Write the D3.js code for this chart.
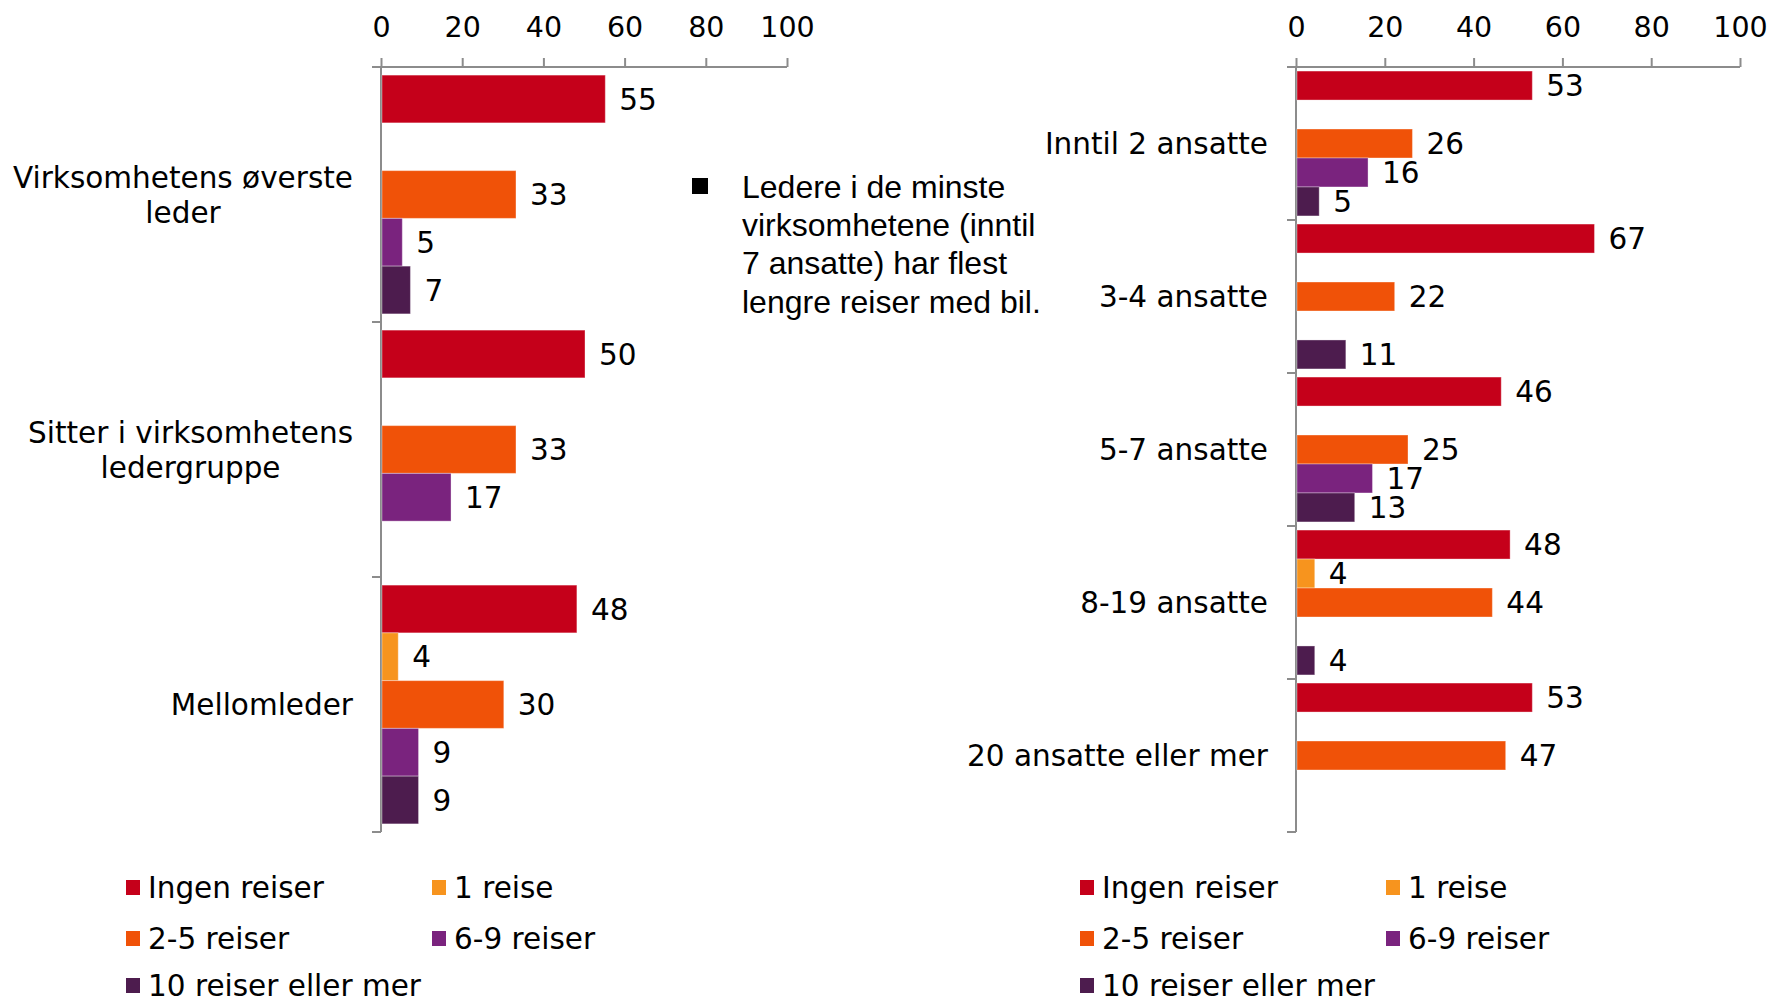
<!DOCTYPE html>
<html>
<head>
<meta charset="utf-8">
<script src="https://cdn.jsdelivr.net/npm/d3@7"></script>
<style>
  body { margin: 0; background: #fff; }
  svg text { font-family: "DejaVu Sans", Verdana, sans-serif; fill: #000; }
</style>
</head>
<body>
<svg width="1770" height="1002"></svg>
<script>
// series (same for both panels)
const series = ["Ingen reiser", "1 reise", "2-5 reiser", "6-9 reiser", "10 reiser eller mer"];
const colors = ["#C5001A", "#F7941E", "#F05208", "#7A237E", "#4D1C4E"];

// left panel: position
const roles = [["Virksomhetens øverste", "leder"], ["Sitter i virksomhetens", "ledergruppe"], ["Mellomleder"]];
const roleValues = [
  [55, null, 33, 5, 7],
  [50, null, 33, 17, null],
  [48, 4, 30, 9, 9]
];

// right panel: company size
const sizes = [["Inntil 2 ansatte"], ["3-4 ansatte"], ["5-7 ansatte"], ["8-19 ansatte"], ["20 ansatte eller mer"]];
const sizeValues = [
  [53, null, 26, 16, 5],
  [67, null, 22, null, 11],
  [46, null, 25, 17, 13],
  [48, 4, 44, null, 4],
  [53, null, 47, null, null]
];

const xTicks = [0, 20, 40, 60, 80, 100];
const note = ["Ledere i de minste", "virksomhetene (inntil", "7 ansatte) har flest", "lengre reiser med bil."];

const svg = d3.select("svg");
const axisColor = "#8C8C8C";

function panel(cats, values, box, pad) {
  const g = svg.append("g");
  const x = d3.scaleLinear().domain([0, 100]).range([box.x0, box.x1]);
  const y = d3.scaleBand().domain(d3.range(cats.length)).range([box.y0, box.y1]).padding(0);
  const yi = d3.scaleBand().domain(d3.range(series.length)).range([0, y.bandwidth()])
    .paddingInner(0).paddingOuter(pad);

  // value axis on top
  const ax = g.append("g")
    .attr("transform", `translate(0,${box.y0})`)
    .call(d3.axisTop(x).tickValues(xTicks).tickSize(9).tickPadding(21).tickSizeOuter(0));
  ax.select(".domain").remove();
  ax.selectAll("line").attr("stroke", axisColor).attr("stroke-width", 2);
  ax.selectAll("text").attr("font-size", 28.5).attr("font-family", "DejaVu Sans, Verdana, sans-serif");
  g.append("line")
    .attr("x1", box.x0 - 9).attr("x2", box.x1)
    .attr("y1", box.y0).attr("y2", box.y0)
    .attr("stroke", axisColor).attr("stroke-width", 2);

  // category axis
  g.append("line")
    .attr("x1", box.x0).attr("x2", box.x0)
    .attr("y1", box.y0).attr("y2", box.y1)
    .attr("stroke", axisColor).attr("stroke-width", 2);
  const bounds = y.domain().map(d => y(d)).concat([y.range()[1]]);
  g.selectAll(".ctick").data(bounds).enter().append("line")
    .attr("x1", box.x0 - 9).attr("x2", box.x0)
    .attr("y1", d => d).attr("y2", d => d)
    .attr("stroke", axisColor).attr("stroke-width", 2);

  // bars
  cats.forEach((c, ci) => {
    const row = values[ci].map((v, si) => ({v: v, si: si})).filter(d => d.v != null);
    const grp = g.append("g").attr("transform", `translate(0,${y(ci)})`);
    grp.selectAll("rect").data(row).enter().append("rect")
      .attr("x", x(0) + 1)
      .attr("y", d => yi(d.si))
      .attr("width", d => x(d.v) - x(0))
      .attr("height", yi.bandwidth())
      .attr("fill", d => colors[d.si])
      .attr("stroke", "#fff").attr("stroke-opacity", 0.35).attr("stroke-width", 1);
    grp.selectAll("text").data(row).enter().append("text")
      .attr("x", d => x(d.v) + 15)
      .attr("y", d => yi(d.si) + yi.bandwidth() / 2)
      .attr("dy", "0.36em")
      .attr("font-size", 29.5)
      .text(d => d.v);

    // category label (lines centered, block right-aligned)
    const lab = g.append("text").attr("font-size", 29.5).attr("text-anchor", "middle");
    const cy = y(ci) + y.bandwidth() / 2;
    const lh = 35;
    c.forEach((line, li) => {
      lab.append("tspan")
        .attr("y", cy + (li - (c.length - 1) / 2) * lh)
        .attr("dy", "0.36em")
        .text(line);
    });
    let w = 0;
    lab.selectAll("tspan").each(function () { w = Math.max(w, this.getComputedTextLength()); });
    lab.selectAll("tspan").attr("x", box.labelRight - w / 2);
  });
}

function legend(lx, ly) {
  const cols = [0, 306];
  const rows = [0, 51, 98];
  const lg = svg.append("g").attr("transform", `translate(${lx},${ly})`);
  series.forEach((s, i) => {
    const cx = cols[i % 2], cy = rows[Math.floor(i / 2)];
    lg.append("rect").attr("x", cx).attr("y", cy - 7).attr("width", 14).attr("height", 15).attr("fill", colors[i]);
    lg.append("text").attr("x", cx + 22).attr("y", cy).attr("dy", "0.36em")
      .attr("font-size", 29.5).text(s);
  });
}

panel(roles, roleValues, {x0: 381, x1: 787, y0: 67, y1: 832, labelRight: 353}, 0.17);
panel(sizes, sizeValues, {x0: 1296, x1: 1740, y0: 67, y1: 832, labelRight: 1268}, 0.14);

legend(126, 887);
legend(1080, 887);

// annotation
svg.append("rect").attr("x", 692).attr("y", 178).attr("width", 16).attr("height", 16).attr("fill", "#000");
const nt = svg.append("text")
  .attr("font-size", 32)
  .style("font-family", "'Liberation Sans', Arial, sans-serif");
note.forEach((t, i) => {
  nt.append("tspan").attr("x", 742).attr("y", 186 + i * 38.4).attr("dy", "0.36em").text(t);
});
</script>
</body>
</html>
